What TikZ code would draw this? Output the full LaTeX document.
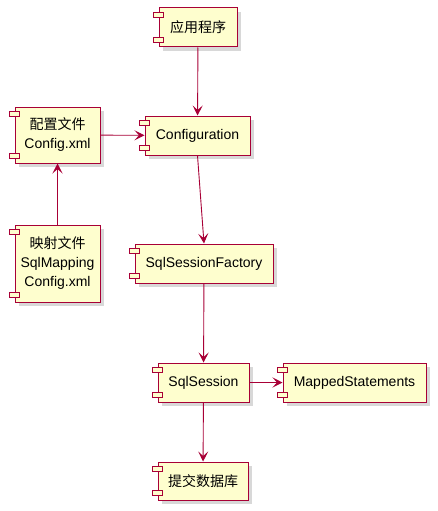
\documentclass[tikz,border=0pt]{standalone}
\usepackage{fontspec}
\setmainfont{Liberation Sans}
\newfontfamily\cjk{Noto Sans CJK SC}
\usetikzlibrary{arrows.meta,shadows}
\definecolor{umlline}{HTML}{A80036}
\definecolor{umlfill}{HTML}{FEFECE}
\tikzset{
	comp/.style={draw=umlline, fill=umlfill, line width=1pt, inner sep=0pt,
		align=center, font=\fontsize{14}{19}\selectfont,
		drop shadow={shadow xshift=4pt, shadow yshift=-4pt, fill=black!30, opacity=0.5}},
	icon/.style={draw=umlline, fill=umlfill, line width=0.8pt},
	link/.style={draw=umlline, line width=0.9pt,
		-{Stealth[length=10pt, width=10pt, inset=4.5pt]}}
}
\begin{document}
\begin{tikzpicture}[x=1pt, y=-1pt]
\useasboundingbox (0,0) rectangle (437,511);
% components
\node[comp, minimum width=78, minimum height=39] (app) at (198,27.5) {\cjk 应用程序};
\node[comp, minimum width=105, minimum height=39] (conf) at (197.5,135.5) {Configuration};
\node[comp, minimum width=85, minimum height=56] (cfg) at (57.5,135) {{\cjk 配置文件}\\Config.xml};
\node[comp, minimum width=85, minimum height=77] (map) at (57.5,263.5) {{\cjk 映射文件}\\SqlMapping\\Config.xml};
\node[comp, minimum width=138, minimum height=39] (fac) at (204,263.5) {SqlSessionFactory};
\node[comp, minimum width=91, minimum height=39] (sess) at (203.5,382.5) {SqlSession};
\node[comp, minimum width=143, minimum height=39] (mapped) at (354.5,382.5) {MappedStatements};
\node[comp, minimum width=90, minimum height=38] (db) at (203,481) {\cjk 提交数据库};
% component icons
\foreach \n in {app,conf,cfg,map,fac,sess,mapped,db} {
	\draw[icon] ([xshift=-5pt,yshift=-5pt]\n.north west) rectangle ++(10,5);
	\draw[icon] ([xshift=-5pt,yshift=10pt]\n.south west) rectangle ++(10,5);
}
% links
\draw[link] (app) -- (conf);
\draw[link] (map) -- (cfg);
\draw[link] (cfg) -- (conf);
\draw[link] (conf.south) -- (fac.north);
\draw[link] (fac) -- (sess);
\draw[link] (sess) -- (mapped);
\draw[link] (sess) -- (db);
\end{tikzpicture}
\end{document}
